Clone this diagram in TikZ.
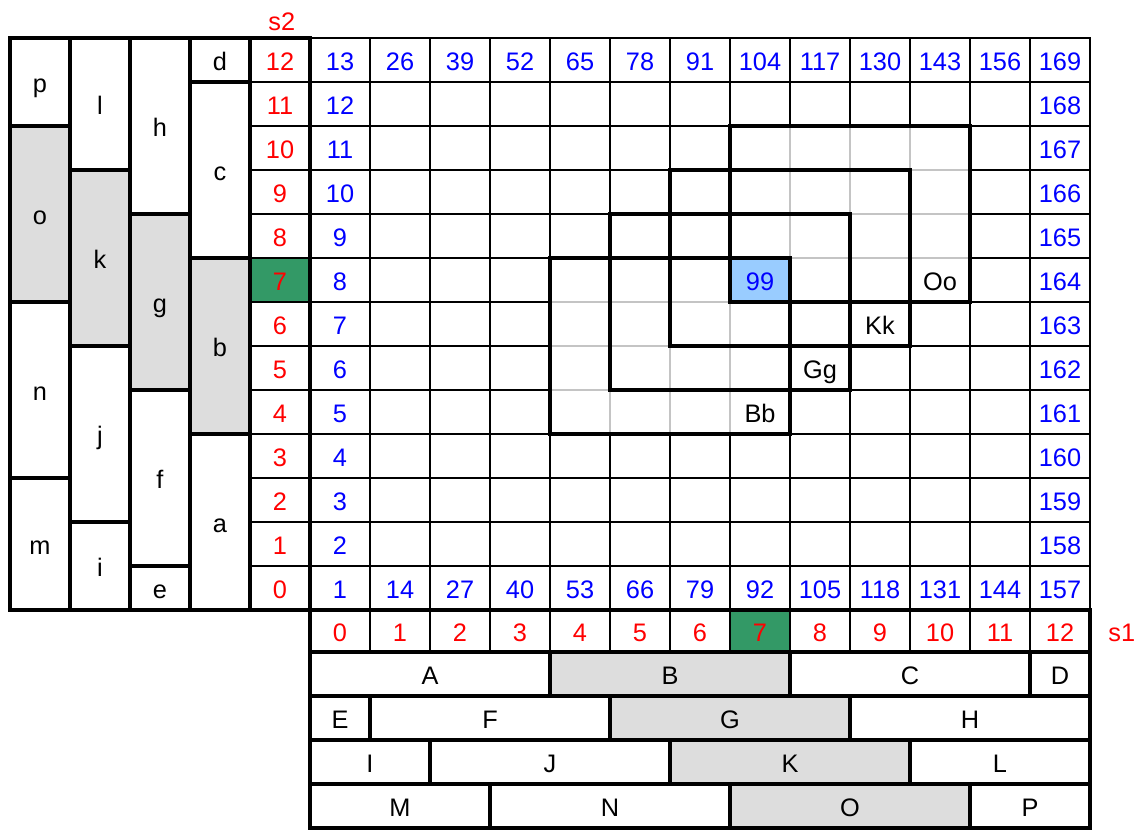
\documentclass[tikz,border=0pt]{standalone}
\usepackage{fontspec}
\setmainfont{Liberation Sans}
\definecolor{numred}{HTML}{FF0000}
\definecolor{numblue}{HTML}{0000FF}
\definecolor{cellgreen}{HTML}{339966}
\definecolor{cellgray}{HTML}{DDDDDD}
\definecolor{cellblue}{HTML}{99CCFF}
\definecolor{linegray}{HTML}{C4C4C4}
\begin{document}
\begin{tikzpicture}[x=45pt,y=-33pt,
  thinline/.style={line width=1.1pt, black},
  midline/.style={line width=1.5pt, black},
  thickline/.style={line width=2.3pt, black},
  grayline/.style={line width=0.8pt, linegray},
  lbl/.style={font=\fontsize{19}{21}\selectfont, inner sep=0pt, text height=13.6pt, text depth=0pt, text=black, yshift=-1.2pt},
  rednum/.style={lbl, text=numred},
  bluenum/.style={lbl, text=numblue},
  block/.style={draw=black, line width=2.3pt}]
\useasboundingbox (-7.5pt,28.5pt) rectangle (851.25pt,-594pt);

% ---------- main grid ----------
\foreach \c in {6,...,17} \draw[thinline] (\c,0) -- (\c,13);
\foreach \r in {1,...,12} \draw[thinline] (5,\r) -- (18,\r);
\draw[midline] (5,0) rectangle (18,13);

% ---------- nested squares ----------
\foreach \sx/\sy in {9/5,10/4,11/3,12/2} {
  \fill[white] (\sx,\sy) rectangle ++(4,4);
  \foreach \k in {1,2,3} {
    \draw[grayline] (\sx+\k,\sy) -- ++(0,4);
    \draw[grayline] (\sx,\sy+\k) -- ++(4,0);
  }
}
\fill[cellblue] (12,5) rectangle (13,6);
\foreach \sx/\sy in {9/5,10/4,11/3,12/2}
  \draw[thickline] (\sx,\sy) rectangle ++(4,4);
\draw[thickline] (12,5) rectangle (13,6);

% ---------- grid labels ----------
\foreach \i in {0,...,12} {
  \pgfmathtruncatemacro{\vt}{13*\i+13}
  \pgfmathtruncatemacro{\vb}{13*\i+1}
  \node[bluenum] (top\i) at (5.5+\i,0.5) {\vt};
  \node[bluenum] (bot\i) at (5.5+\i,12.5) {\vb};
}
\foreach \j in {1,...,11} {
  \pgfmathtruncatemacro{\vl}{\j+1}
  \pgfmathtruncatemacro{\vr}{157+\j}
  \node[bluenum] (lft\j) at (5.5,12.5-\j) {\vl};
  \node[bluenum] (rgt\j) at (17.5,12.5-\j) {\vr};
}
\node[bluenum] (n99) at (12.5,5.5) {99};
\node[lbl] (bb) at (12.5,8.5) {Bb};
\node[lbl] (gg) at (13.5,7.5) {Gg};
\node[lbl] (kk) at (14.5,6.5) {Kk};
\node[lbl] (oo) at (15.5,5.5) {Oo};

% ---------- left blocks ----------
\foreach \c/\t/\b/\nm/\fc in {
  0/0/2/p/white, 0/2/6/o/cellgray, 0/6/10/n/white, 0/10/13/m/white,
  1/0/3/l/white, 1/3/7/k/cellgray, 1/7/11/j/white, 1/11/13/i/white,
  2/0/4/h/white, 2/4/8/g/cellgray, 2/8/12/f/white, 2/12/13/e/white,
  3/0/1/d/white, 3/1/5/c/white, 3/5/9/b/cellgray, 3/9/13/a/white} {
  \draw[block, fill=\fc] (\c,\t) rectangle (\c+1,\b);
  \node[lbl] (lw\nm) at (\c+0.5,{(\t+\b)/2}) {\nm};
}

% ---------- s2 column ----------
\fill[cellgreen] (4,5) rectangle (5,6);
\foreach \r in {1,...,12} \draw[thinline] (4,\r) -- (5,\r);
\draw[thickline] (4,0) rectangle (5,13);
\foreach \j in {0,...,12} \node[rednum] (sa\j) at (4.5,12.5-\j) {\j};
\node[rednum] (s2lab) at (4.53,-0.41) {s2};

% ---------- s1 row ----------
\fill[cellgreen] (12,13) rectangle (13,13.955);
\foreach \c in {6,...,17} \draw[thinline] (\c,13) -- (\c,13.955);
\draw[thickline] (5,13) rectangle (18,13.955);
\foreach \i in {0,...,12} \node[rednum] (sb\i) at (5.5+\i,13.477) {\i};
\node[rednum] (s1lab) at (18.53,13.477) {s1};

% ---------- bottom blocks ----------
\foreach \l/\r/\rw/\nm/\fc in {
  5/9/0/A/white, 9/13/0/B/cellgray, 13/17/0/C/white, 17/18/0/D/white,
  5/6/1/E/white, 6/10/1/F/white, 10/14/1/G/cellgray, 14/18/1/H/white,
  5/7/2/I/white, 7/11/2/J/white, 11/15/2/K/cellgray, 15/18/2/L/white,
  5/8/3/M/white, 8/12/3/N/white, 12/16/3/O/cellgray, 16/18/3/P/white} {
  \draw[block, fill=\fc] (\l,13.955+\rw) rectangle (\r,14.955+\rw);
  \node[lbl] (lb\nm) at ({(\l+\r)/2},14.455+\rw) {\nm};
}
\end{tikzpicture}
\end{document}
